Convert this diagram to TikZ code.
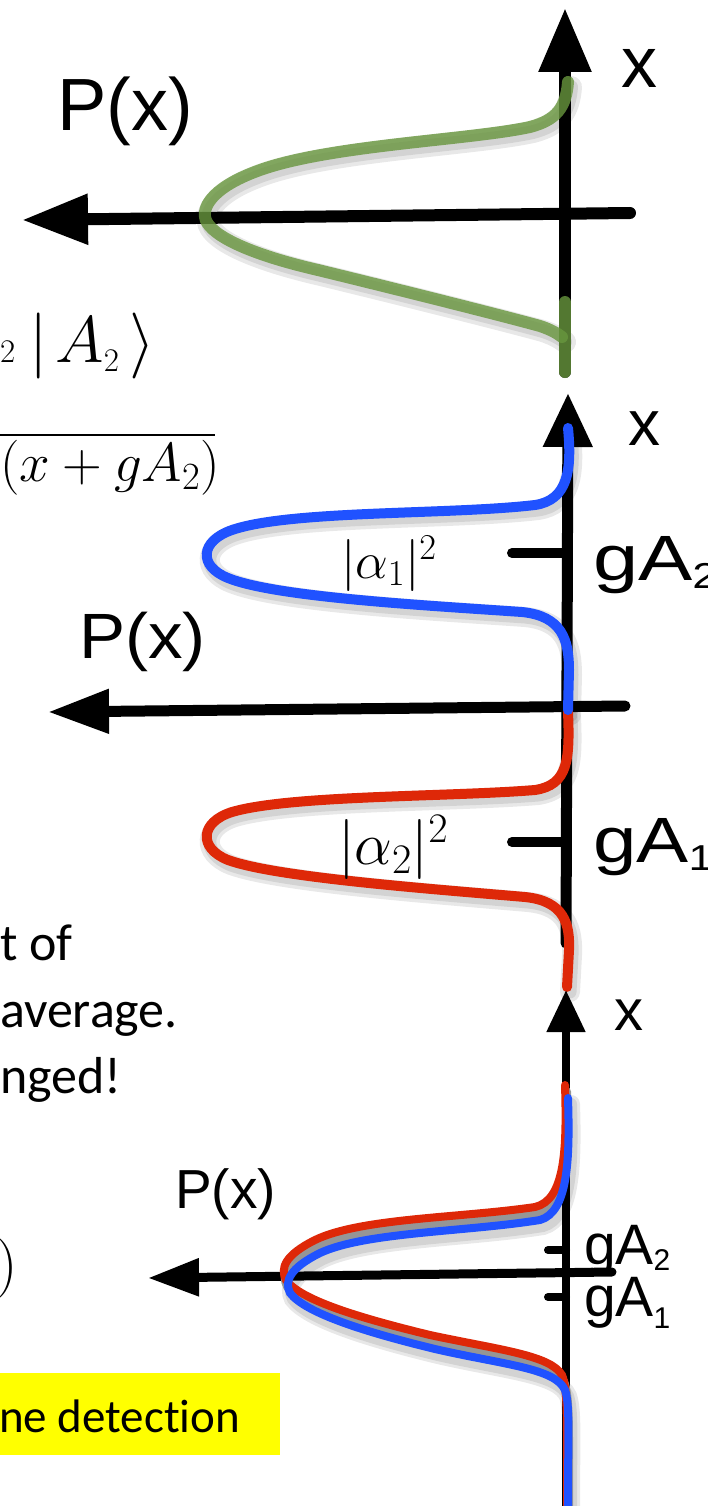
\RequirePackage{fix-cm}
\documentclass[tikz,border=0pt]{standalone}
\usepackage{fontspec}
\newfontfamily\arial{Liberation Sans}
\newfontfamily\calibri{Carlito}[Ligatures=NoCommon]
\usetikzlibrary{arrows.meta}
\definecolor{cblue}{RGB}{32,82,255}
\definecolor{cred}{RGB}{222,40,8}
\definecolor{cgreen}{RGB}{104,150,62}
\definecolor{cgray}{RGB}{150,150,150}
\definecolor{hl}{RGB}{255,255,0}
\newcommand\fs[1]{\fontsize{#1}{#1}\selectfont}
\tikzset{
 axisline/.style={line width=#1, line cap=round, draw=black},
 curveline/.style={line width=#1, line cap=round},
 shadeline/.style={line width=#1, line cap=round, draw=black, opacity=0.09},
 lbl/.style={anchor=base west, inner sep=0pt, outer sep=0pt},
}
\def\pgreen{(568,82) .. controls (566,108) and (556,120) .. (530,127) .. controls (470,140) and (330,145) .. (260,170) .. controls (215,186) and (203,205) .. (205,217) .. controls (207,232) and (240,252) .. (318,270) .. controls (400,290) and (500,315) .. (540,326) .. controls (552,330) and (558,334) .. (562,337)}
\def\pblue{(568,428) .. controls (572,470) and (568,500) .. (535,505) .. controls (450,515) and (290,510) .. (232,530) .. controls (200,541) and (198,566) .. (228,578) .. controls (275,597) and (420,605) .. (522,612) .. controls (562,616) and (569,640) .. (569,670) -- (568,710)}
\def\pred{(568,712) .. controls (570,760) and (568,785) .. (535,790) .. controls (450,797) and (290,795) .. (232,812) .. controls (200,822) and (198,848) .. (228,860) .. controls (275,877) and (420,888) .. (525,897) .. controls (565,901) and (570,925) .. (569,950) -- (567,987)}
\def\predb{(565,1085) .. controls (567,1150) and (565,1200) .. (535,1207) .. controls (460,1218) and (360,1218) .. (315,1240) .. controls (285,1255) and (280,1268) .. (286,1280) .. controls (300,1300) and (360,1318) .. (430,1335) .. controls (500,1350) and (550,1355) .. (562,1375) .. controls (568,1390) and (567,1420) .. (567,1510)}
\def\pblueb{(568,1098) .. controls (570,1160) and (568,1212) .. (540,1220) .. controls (465,1232) and (365,1232) .. (320,1253) .. controls (290,1268) and (284,1281) .. (290,1293) .. controls (305,1313) and (365,1332) .. (435,1349) .. controls (505,1365) and (555,1368) .. (565,1390) .. controls (570,1405) and (568,1430) .. (568,1510)}
\begin{document}
\begin{tikzpicture}[x=1pt,y=-1pt]
\path[use as bounding box] (0,0) rectangle (707,1506);
% ---------- top panel ----------
\coordinate (t-vb) at (565,372);
\coordinate (t-vt) at (565,8);
\coordinate (t-hr) at (630,213);
\coordinate (t-hl) at (22,220);
\draw[axisline=12, -{Triangle[length=64pt,width=50pt]}] (t-vb) -- (t-vt);
\draw[axisline=12, -{Triangle[length=66pt,width=48pt]}] (t-hr) -- (t-hl);
\foreach \w in {22,14} \draw[shadeline=\w, shift={(3,5)}] \pgreen;
\draw[curveline=12, draw=cgreen, opacity=0.8] \pgreen;
\coordinate (t-g1) at (565,302);
\coordinate (t-g2) at (565,372);
\draw[curveline=12, draw=cgreen, opacity=0.8] (t-g1) -- (t-g2);
% ---------- middle panel ----------
\coordinate (m-vb) at (566,943);
\coordinate (m-vt) at (568,393);
\coordinate (m-hr) at (625,706);
\coordinate (m-hl) at (48,712);
\draw[axisline=11, -{Triangle[length=54pt,width=47pt]}] (m-vb) -- (m-vt);
\draw[axisline=11, -{Triangle[length=61pt,width=42pt]}] (m-hr) -- (m-hl);
\coordinate (m-t2a) at (512,553); \coordinate (m-t2b) at (566,553);
\coordinate (m-t1a) at (512,842); \coordinate (m-t1b) at (566,842);
\draw[axisline=10] (m-t2a) -- (m-t2b);
\draw[axisline=10] (m-t1a) -- (m-t1b);
\foreach \w in {20,13} {\draw[shadeline=\w, shift={(3,5)}] \pblue; \draw[shadeline=\w, shift={(3,5)}] \pred;}
\draw[curveline=10, draw=cred] \pred;
\draw[curveline=10, draw=cblue] \pblue;
% ---------- bottom panel ----------
\coordinate (b-vb) at (566,1515);
\coordinate (b-vt) at (566,990);
\coordinate (b-hr) at (612,1272);
\coordinate (b-hl) at (148,1278);
\draw[axisline=8, -{Triangle[length=42pt,width=37pt]}] (b-vb) -- (b-vt);
\draw[axisline=9, -{Triangle[length=51pt,width=36pt]}] (b-hr) -- (b-hl);
\coordinate (b-t2a) at (548,1250); \coordinate (b-t2b) at (566,1250);
\coordinate (b-t1a) at (548,1297); \coordinate (b-t1b) at (566,1297);
\draw[axisline=8] (b-t2a) -- (b-t2b);
\draw[axisline=8] (b-t1a) -- (b-t1b);
\foreach \w in {18,12} \draw[shadeline=\w, shift={(3,6)}] \pblueb;
\draw[curveline=9, draw=cgray, shift={(1.5,6.5)}] \predb;
\draw[curveline=8, draw=cred] \predb;
\draw[curveline=8, draw=cblue] \pblueb;
% ---------- labels ----------
\node[lbl, font={\arial\fs{72}}] (x1) at (621,88) {x};
\node[lbl, font={\arial\fs{74}}] (P1) at (57,131) {P(x)};
\node[lbl, font={\arial\fs{64}}] (x2) at (628,445) {x};
\node[lbl, font={\arial\fs{64}}, xscale=1.08] (P2) at (79,658) {P(x)};
\node[lbl, font={\arial\fs{64}}, xscale=1.27] (g2) at (593,580) {gA\raisebox{-8pt}{\fs{36}2}};
\node[lbl, font={\arial\fs{64}}, xscale=1.22] (g1) at (593,862) {gA\raisebox{-8pt}{\fs{36}1}};
\node[lbl, font={\arial\fs{58}}] (x3) at (614,1030) {x};
\node[lbl, font={\arial\fs{55}}] (P3) at (175,1208) {P(x)};
\node[lbl, font={\arial\fs{57}}] (h2) at (584,1264) {gA\raisebox{-6pt}{\fs{30}2}};
\node[lbl, font={\arial\fs{57}}] (h1) at (584,1316) {gA\raisebox{-12pt}{\fs{30}1}};
\node[lbl, font=\fs{52}] (a1) at (341,578) {$|\alpha_1|^2$};
\node[lbl, font=\fs{60}] (a2) at (338,864) {$|\alpha_2|^2$};
% left-edge fragments
\node[lbl, font=\fs{66}] (ket) at (0,362) {${\scriptscriptstyle 2}\hspace{14pt}\bigl|\hspace{8pt}A_{\scriptscriptstyle 2}\hspace{10pt}\bigr\rangle$};
\coordinate (ol-a) at (0,435); \coordinate (ol-b) at (215,435);
\draw[line width=2.2pt] (ol-a) -- (ol-b);
\node[lbl, font=\fs{55}] (den) at (0,481) {$(x+gA_2)$};
\node[lbl, font={\calibri\fs{52}}] (l1) at (0,960) {t of};
\node[lbl, font={\calibri\fs{52}}] (l2) at (0,1027) {average.};
\node[lbl, font={\calibri\fs{52}}] (l3) at (0,1093) {nged!};
\node[lbl, font=\fs{60}] (par) at (-3,1283) {)};
\fill[hl] (0,1373) rectangle (280,1455);
\node[lbl, font={\calibri\fs{47}}] (det) at (-1,1432) {ne detection};
\end{tikzpicture}
\end{document}
